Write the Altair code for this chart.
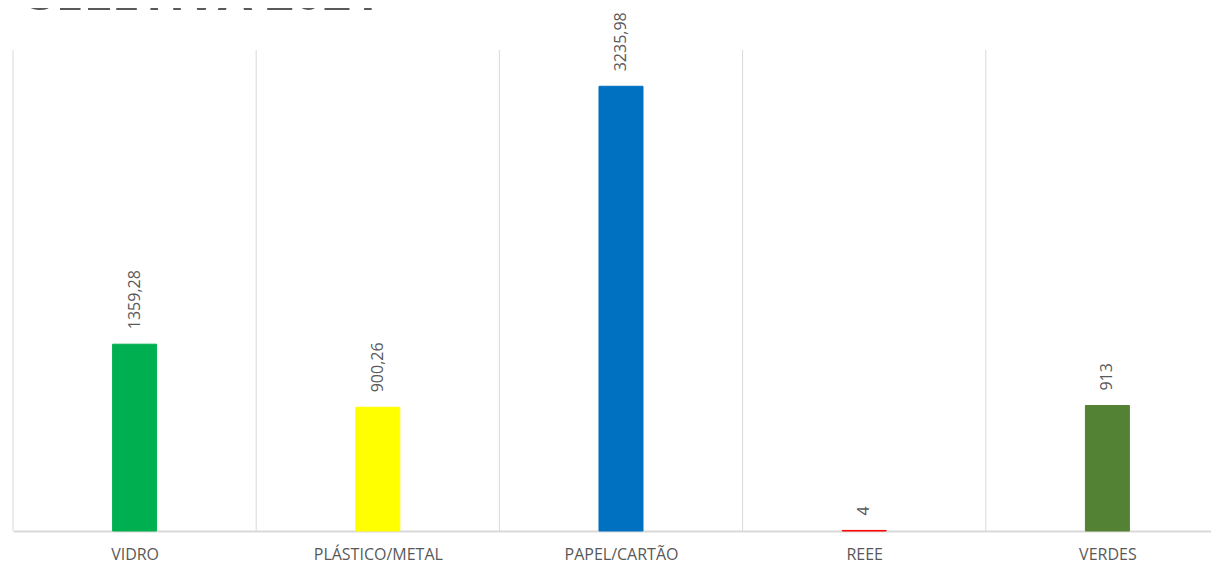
import json
import altair as alt
import pandas as pd

categories = ["VIDRO", "PLÁSTICO/METAL", "PAPEL/CARTÃO", "REEE", "VERDES"]
values = [1359.28, 900.26, 3235.98, 4, 913]
value_labels = ["1359,28", "900,26", "3235,98", "4", "913"]
colors = ["#00B050", "#FFFF00", "#0070C0", "#FF0000", "#548235"]
title_text = "SELETIVA 2021"

df = pd.DataFrame({"cat": categories, "v": values, "lab": value_labels})

FONT = "Open Sans"
cats_json = json.dumps(categories, ensure_ascii=False)

# category slots on a continuous axis (slot k spans [k, k+1]); the right part is cut off like the original
xscale = alt.Scale(domain=[0, 4.926], nice=False, zero=False, padding=0)
yscale = alt.Scale(domain=[0, 3500], nice=False, padding=0)
xaxis = alt.Axis(title=None, ticks=False, grid=False, labelAngle=0, labelFont=FONT,
                 labelFontSize=16, labelColor="#595959", labelPadding=15,
                 domainColor="#d9d9d9", domainWidth=2,
                 values=[i + 0.5 for i in range(len(categories))],
                 labelExpr=f"{cats_json}[round(datum.value - 0.5)]")

base = alt.Chart(df).transform_calculate(
    idx=f"indexof({cats_json}, datum.cat)",
    mid=f"indexof({cats_json}, datum.cat) + 0.5",
)

grid = base.mark_rule(color="#d9d9d9", strokeWidth=1).encode(
    x=alt.X("idx:Q", scale=xscale, axis=xaxis),
    y=alt.value(0),
    y2=alt.value(481),
)

bars = base.mark_bar(size=44, strokeWidth=1).encode(
    x=alt.X("mid:Q", scale=xscale, axis=xaxis),
    y=alt.Y("v:Q", scale=yscale, axis=None),
    color=alt.Color("cat:N", scale=alt.Scale(domain=categories, range=colors), legend=None),
    stroke=alt.Color("cat:N", scale=alt.Scale(domain=categories, range=colors), legend=None),
)

labels = base.mark_text(angle=270, align="left", baseline="middle", dx=15,
                        font=FONT, fontSize=16, color="#595959").encode(
    x=alt.X("mid:Q", scale=xscale, axis=xaxis),
    y=alt.Y("v:Q", scale=yscale, axis=None),
    text="lab:N",
)

title = alt.Chart(pd.DataFrame({"t": [title_text]})).mark_text(
    align="left", baseline="alphabetic", font=FONT, fontSize=50, fontWeight="bold",
    color="#595959").encode(
    x=alt.value(15), y=alt.value(-40), text="t:N")

chart = alt.layer(grid, bars, labels, title).properties(
    width=1198, height=481,
    background="white",
    autosize=alt.AutoSizeParams(type="none"),
    padding={"left": 5, "top": 42, "right": 0, "bottom": 35},
).configure_view(stroke=None)

chart.save("out.html", embed_options={"renderer": "svg", "actions": False})
